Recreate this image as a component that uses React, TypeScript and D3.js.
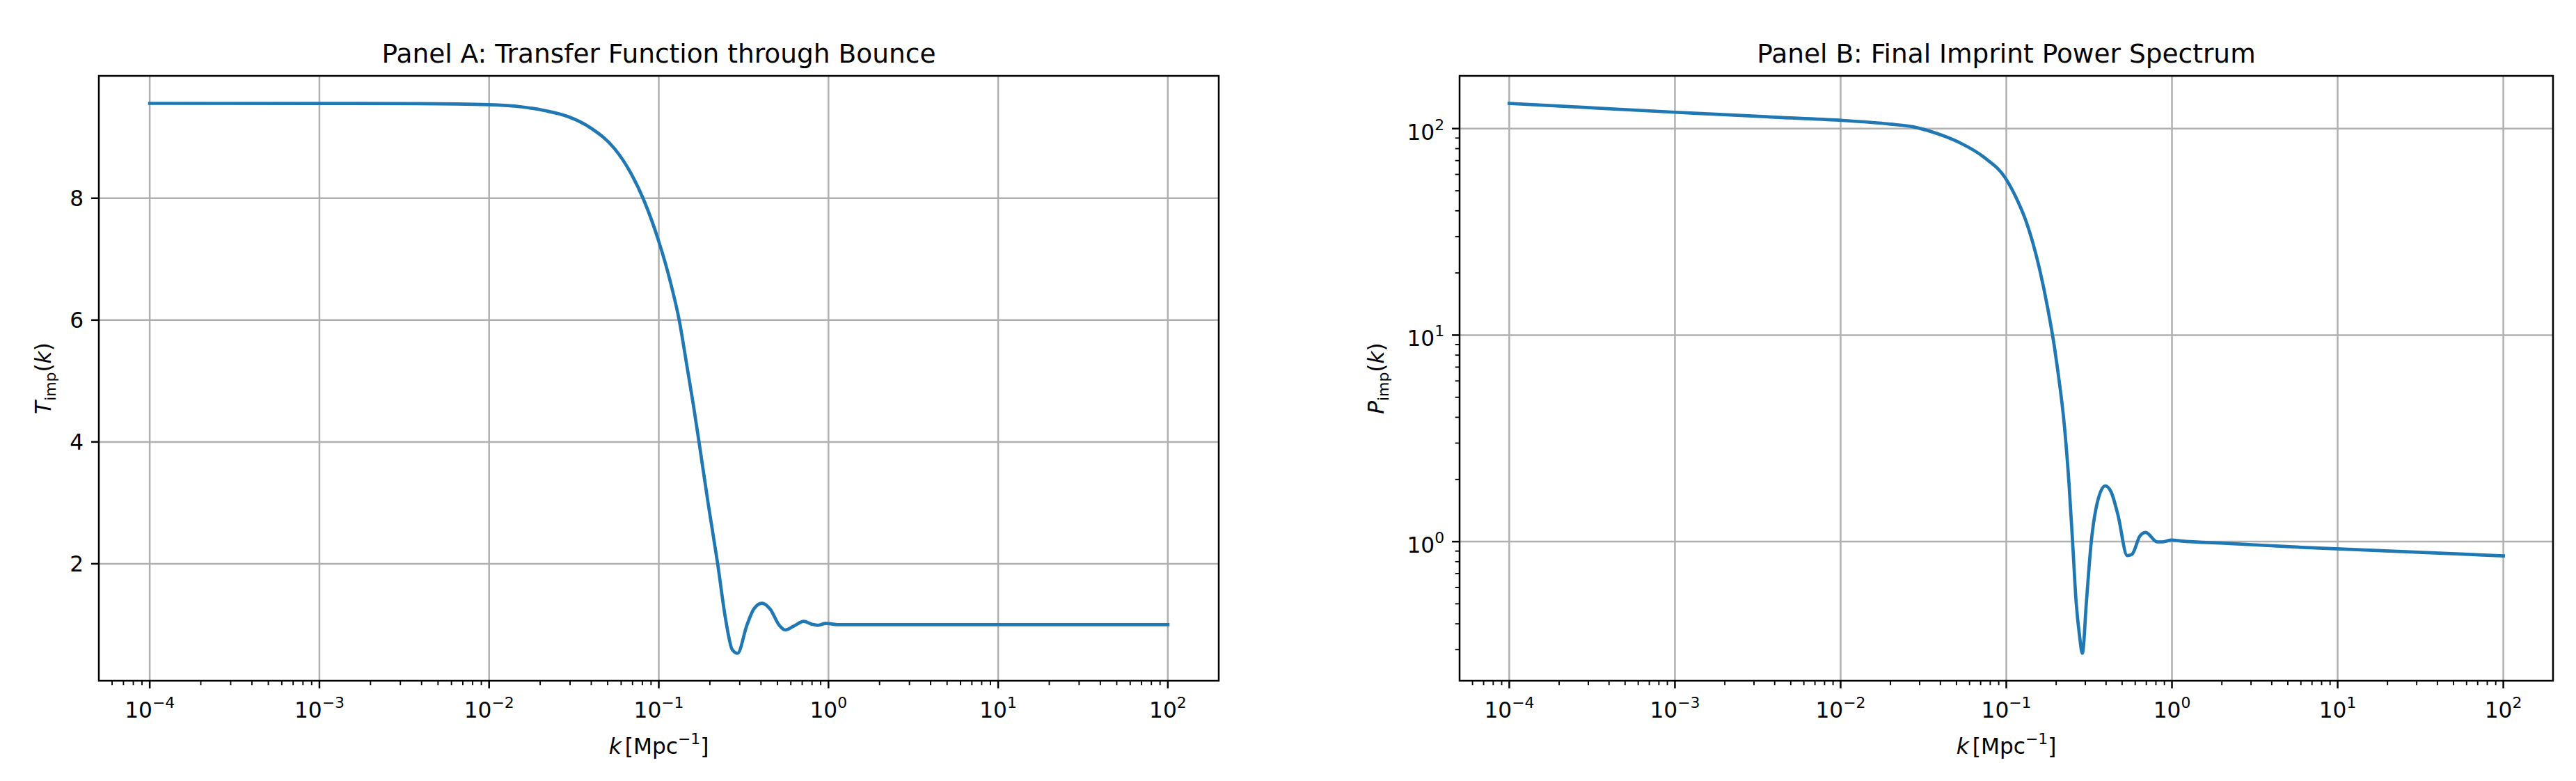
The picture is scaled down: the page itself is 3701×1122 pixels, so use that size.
import React from "react";
import * as d3 from "d3";

// ---------- data ----------
const kA = [
  0.0001, 0.001, 0.0038, 0.01, 0.0155, 0.0214, 0.0292, 0.0398, 0.055, 0.0682,
  0.0813, 0.1, 0.1167, 0.1321, 0.1476, 0.1596, 0.1726, 0.1959, 0.2223, 0.2483,
  0.271, 0.2911, 0.3304, 0.3631, 0.4055, 0.4529, 0.5129, 0.5546, 0.6194, 0.7145,
  0.798, 0.863, 0.9638, 1.164, 10, 100,
];
const tA = [
  9.557, 9.556, 9.552, 9.535, 9.5, 9.437, 9.34, 9.152, 8.81, 8.42,
  7.98, 7.29, 6.64, 5.99, 5.19, 4.62, 4.0, 2.97, 2.0, 1.07,
  0.59, 0.531, 0.99, 1.257, 1.352, 1.257, 0.99, 0.914, 0.971, 1.055,
  1.009, 0.99, 1.02, 1.0, 1.0, 1.0,
];

const kB = [
  0.0001, 0.001, 0.001517, 0.00399, 0.00984, 0.02, 0.02761, 0.03811, 0.0526, 0.07261,
  0.09931, 0.1178, 0.1318, 0.1585, 0.1778, 0.1959, 0.2037, 0.2244, 0.2393, 0.2512,
  0.2636, 0.2767, 0.2877, 0.3048, 0.3258, 0.3532, 0.3954, 0.4285, 0.4721, 0.537,
  0.5728, 0.6412, 0.6934, 0.8166, 0.871, 0.9908, 1.127, 2.148, 5.649, 100,
];
const pB = [
  132.5, 120.0, 118.1, 113.6, 109.8, 105.1, 101.9, 94.7, 85.3, 73.1,
  57.2, 44.2, 35.5, 21.0, 13.5, 8.6, 6.89, 3.61, 1.885, 1.0,
  0.517, 0.35, 0.288, 0.517, 1.0, 1.53, 1.862, 1.745, 1.346, 0.856,
  0.867, 1.066, 1.109, 0.997, 0.997, 1.018, 1.008, 0.981, 0.941, 0.853,
];

const xExponents = [-4, -3, -2, -1, 0, 1, 2];
const yTicksA = [2, 4, 6, 8];
const yExponentsB = [0, 1, 2];
const titleA = "Panel A: Transfer Function through Bounce";
const titleB = "Panel B: Final Imprint Power Spectrum";

// ---------- style ----------
const W = 3701;
const H = 1122;
const FONT = "'DejaVu Sans', sans-serif";
const PT = 225 / 72;
const TICK_FS = 10 * PT;
const TITLE_FS = 12 * PT;
const SUP_FS = TICK_FS * 0.7;
const SUP_RAISE = 14;
const LINE_COLOR = "#1f77b4";
const GRID_COLOR = "#b0b0b0";
const MAJOR_LEN = 3.5 * PT;
const MINOR_LEN = 2 * PT;
const PAD = 3.5 * PT;

type Box = { left: number; top: number; right: number; bottom: number };
const boxA: Box = { left: 142, top: 109, right: 1751, bottom: 978 };
const boxB: Box = { left: 2097, top: 109, right: 3668, bottom: 978 };

function padLinear(vals: number[]): [number, number] {
  const [a, b] = d3.extent(vals) as [number, number];
  const m = (b - a) * 0.05;
  return [a - m, b + m];
}
function padLog(vals: number[]): [number, number] {
  const lv = vals.map((v) => Math.log10(v));
  const [a, b] = d3.extent(lv) as [number, number];
  const m = (b - a) * 0.05;
  return [Math.pow(10, a - m), Math.pow(10, b + m)];
}
function minorLogTicks(domain: [number, number]) {
  const out: number[] = [];
  const lo = Math.floor(Math.log10(domain[0]));
  const hi = Math.ceil(Math.log10(domain[1]));
  for (let d = lo; d <= hi; d++) {
    for (let m = 2; m <= 9; m++) {
      const v = m * Math.pow(10, d);
      if (v >= domain[0] && v <= domain[1]) out.push(v);
    }
  }
  return out;
}
const expStr = (e: number) => (e < 0 ? "\u2212" + -e : String(e));

function Pow({ x, y, e, anchor }: { x: number; y: number; e: number; anchor: string }) {
  return (
    <text x={x} y={y} textAnchor={anchor} fontFamily={FONT} fontSize={TICK_FS} fill="#000">
      10
      <tspan dy={-SUP_RAISE} fontSize={SUP_FS}>
        {expStr(e)}
      </tspan>
    </text>
  );
}

function Panel({
  box,
  k,
  v,
  logY,
  title,
  sym,
  id,
}: {
  box: Box;
  k: number[];
  v: number[];
  logY: boolean;
  title: string;
  sym: string;
  id: string;
}) {
  const xDom = padLog(k);
  const x = d3.scaleLog().domain(xDom).range([box.left, box.right]);
  const yDom = logY ? padLog(v) : padLinear(v);
  const y = logY
    ? d3.scaleLog().domain(yDom).range([box.bottom, box.top])
    : d3.scaleLinear().domain(yDom).range([box.bottom, box.top]);

  const pts: [number, number][] = k.map((kk, i) => [kk, v[i]]);
  const line = d3
    .line<[number, number]>()
    .x((d) => x(d[0]))
    .y((d) => (y as any)(d[1]))
    .curve(d3.curveMonotoneX);

  const xMajors = xExponents.map((e) => Math.pow(10, e));
  const xMinors = minorLogTicks(xDom);
  const yMajors = logY ? yExponentsB.map((e) => Math.pow(10, e)) : yTicksA;
  const yMinors = logY ? minorLogTicks(yDom) : [];
  const cx = (box.left + box.right) / 2;
  const cy = (box.top + box.bottom) / 2;
  const ylx = box.left === boxA.left ? 72.5 : 1988;

  return (
    <g>
      <defs>
        <clipPath id={id}>
          <rect x={box.left} y={box.top} width={box.right - box.left} height={box.bottom - box.top} />
        </clipPath>
      </defs>
      {/* grid */}
      {xMajors.map((t, i) => (
        <line key={"gx" + i} x1={x(t)} x2={x(t)} y1={box.top} y2={box.bottom} stroke={GRID_COLOR} strokeWidth={0.8 * PT} />
      ))}
      {yMajors.map((t, i) => (
        <line key={"gy" + i} x1={box.left} x2={box.right} y1={(y as any)(t)} y2={(y as any)(t)} stroke={GRID_COLOR} strokeWidth={0.8 * PT} />
      ))}
      {/* data line */}
      <path d={line(pts) || ""} fill="none" stroke={LINE_COLOR} strokeWidth={1.5 * PT} strokeLinejoin="round" strokeLinecap="square" clipPath={`url(#${id})`} />
      {/* spines */}
      <rect x={box.left} y={box.top} width={box.right - box.left} height={box.bottom - box.top} fill="none" stroke="#000" strokeWidth={0.8 * PT} />
      {/* x ticks */}
      {xMajors.map((t, i) => (
        <line key={"tx" + i} x1={x(t)} x2={x(t)} y1={box.bottom} y2={box.bottom + MAJOR_LEN} stroke="#000" strokeWidth={0.8 * PT} />
      ))}
      {xMinors.map((t, i) => (
        <line key={"mx" + i} x1={x(t)} x2={x(t)} y1={box.bottom} y2={box.bottom + MINOR_LEN} stroke="#000" strokeWidth={0.6 * PT} />
      ))}
      {xExponents.map((e, i) => (
        <Pow key={"lx" + i} x={x(Math.pow(10, e))} y={box.bottom + MAJOR_LEN + PAD + 30.7} e={e} anchor="middle" />
      ))}
      {/* y ticks */}
      {yMajors.map((t, i) => (
        <line key={"ty" + i} x1={box.left - MAJOR_LEN} x2={box.left} y1={(y as any)(t)} y2={(y as any)(t)} stroke="#000" strokeWidth={0.8 * PT} />
      ))}
      {yMinors.map((t, i) => (
        <line key={"my" + i} x1={box.left - MINOR_LEN} x2={box.left} y1={(y as any)(t)} y2={(y as any)(t)} stroke="#000" strokeWidth={0.6 * PT} />
      ))}
      {logY
        ? yExponentsB.map((e, i) => (
            <Pow key={"ly" + i} x={box.left - MAJOR_LEN - PAD} y={(y as any)(Math.pow(10, e)) + 16} e={e} anchor="end" />
          ))
        : yTicksA.map((t, i) => (
            <text key={"ly" + i} x={box.left - MAJOR_LEN - PAD} y={(y as any)(t) + 0.365 * TICK_FS} textAnchor="end" fontFamily={FONT} fontSize={TICK_FS} fill="#000">
              {t}
            </text>
          ))}
      {/* title */}
      <text x={cx} y={box.top - 6 * PT} textAnchor="middle" fontFamily={FONT} fontSize={TITLE_FS} fill="#000">
        {title}
      </text>
      {/* x label */}
      <text x={cx} y={1083} textAnchor="middle" fontFamily={FONT} fontSize={TICK_FS} fill="#000">
        <tspan fontStyle="italic">k</tspan>
        <tspan dx={5}>[Mpc</tspan>
        <tspan dy={-SUP_RAISE} fontSize={SUP_FS}>
          {"\u22121"}
        </tspan>
        <tspan dy={SUP_RAISE}>]</tspan>
      </text>
      {/* y label */}
      <text x={ylx} y={cy} transform={`rotate(-90, ${ylx}, ${cy})`} textAnchor="middle" fontFamily={FONT} fontSize={TICK_FS} fill="#000">
        <tspan fontStyle="italic">{sym}</tspan>
        <tspan dy={7} fontSize={SUP_FS}>
          imp
        </tspan>
        <tspan dy={-7}>(</tspan>
        <tspan fontStyle="italic">k</tspan>
        <tspan>)</tspan>
      </text>
    </g>
  );
}

export default function App() {
  return (
    <svg
      width={W}
      height={H}
      viewBox={`0 0 ${W} ${H}`}
      style={{ position: "absolute", left: 0, top: 0, background: "#fff" }}
    >
      <rect x={0} y={0} width={W} height={H} fill="#fff" />
      <Panel box={boxA} k={kA} v={tA} logY={false} title={titleA} sym="T" id="clipA" />
      <Panel box={boxB} k={kB} v={pB} logY={true} title={titleB} sym="P" id="clipB" />
    </svg>
  );
}
